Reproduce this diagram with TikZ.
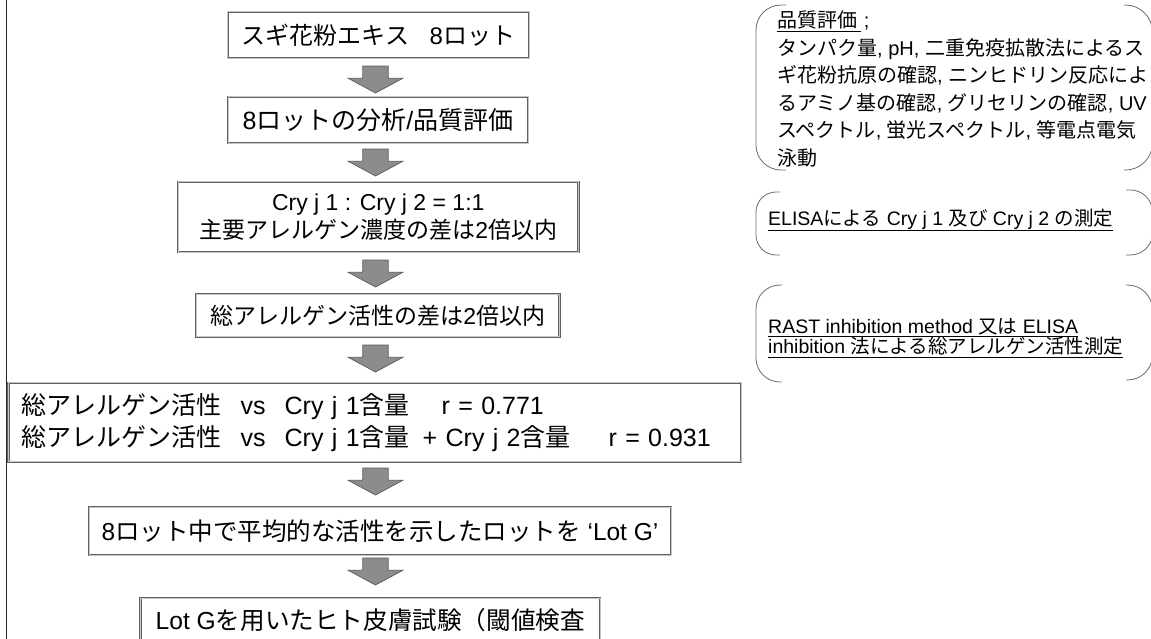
\documentclass[tikz,border=0pt]{standalone}
\usepackage{fontspec}
\setmainfont{Liberation Sans}
\newfontfamily\jpfont{Noto Sans CJK JP}
\newcommand\J[1]{{\jpfont #1}}
\definecolor{boxline}{gray}{0.38}
\definecolor{arrfill}{gray}{0.55}
\definecolor{arredge}{gray}{0.35}
\definecolor{brk}{gray}{0.42}
\begin{document}
\begin{tikzpicture}[x=1pt,y=-1pt,
  mainbox/.style={draw=boxline, double=gray!45, double distance=0.8pt, line width=0.75pt, inner sep=0pt, align=center, font=\fontsize{23}{28}\selectfont},
  bracket/.style={draw=brk, line width=0.8pt, rounded corners=#1},
  sidetext/.style={inner sep=0pt, anchor=west, align=left},
  pics/darr/.style={code={\filldraw[fill=arrfill, draw=arredge, line width=0.7pt] (-12.7,0) -- (12.7,0) -- (12.7,12.3) -- (27.3,12.3) -- (0,27) -- (-27.3,12.3) -- (-12.7,12.3) -- cycle;}}
]
\useasboundingbox (0,0) rectangle (1151,638);
\coordinate (lt) at (6.5,-5);
\coordinate (lb) at (6.5,645);
\draw[line width=1.5pt, black!85] (lt) -- (lb);

% main column
\node[mainbox, minimum width=301.6pt, minimum height=46.6pt, font=\fontsize{24}{28}\selectfont] (b1) at (378.5,35) {\J{スギ花粉エキス}\hspace{0.85em}8\J{ロット}};
\node[mainbox, minimum width=300pt, minimum height=46.6pt, font=\fontsize{25}{28}\selectfont] (b2) at (378,120) {8\J{ロットの分析}/\J{品質評価}};
\node[mainbox, minimum width=400.6pt, minimum height=70.6pt] (b3) at (378.3,217) {Cry j 1 : Cry j 2 = 1:1\\ \J{主要アレルゲン濃度の差は}2\J{倍以内}};
\node[mainbox, minimum width=363.5pt, minimum height=42.7pt] (b4) at (377.8,315.4) {\J{総アレルゲン活性の差は}2\J{倍以内}};
\node[mainbox, minimum width=732.6pt, minimum height=79pt, align=left, text width=706pt, font=\fontsize{25}{32}\selectfont] (b5) at (374.7,422.2) {\J{総アレルゲン活性}\hspace{19pt}vs\hspace{19pt}Cry j 1\J{含量}\hspace{32pt}r = 0.771\\ \J{総アレルゲン活性}\hspace{19pt}vs\hspace{19pt}Cry j 1\J{含量}\hspace{13pt}+ Cry j 2\J{含量}\hspace{38pt}r = 0.931};
\node[mainbox, minimum width=582pt, minimum height=48pt, font=\fontsize{24.5}{28}\selectfont] (b6) at (380,531) {8\J{ロット中で平均的な活性を示したロットを} ‘Lot G’};
\node[mainbox, minimum width=459.5pt, minimum height=44pt, font=\fontsize{24.6}{28}\selectfont] (b7) at (370.25,620) {Lot G\J{を用いたヒト皮膚試験（閾値検査}};

% block arrows
\pic (a1) at (375.5,66) {darr};
\pic (a2) at (375.5,149) {darr};
\pic (a3) at (375.5,260) {darr};
\pic (a4) at (375.5,345) {darr};
\pic (a5) at (375.5,468) {darr};
\pic (a6) at (375.5,558) {darr};

% side notes
\draw[bracket=25] (786,5) -- (756,5) -- (756,170) -- (786,170);
\draw[bracket=27] (1124,5) -- (1152.5,5) -- (1152.5,170) -- (1124,170);
\node[sidetext, font=\fontsize{20}{27.5}\selectfont] (sa) at (777,89) {\underline{\J{品質評価}\,}\,;\\ \J{タンパク量}, pH, \J{二重免疫拡散法によるス}\\ \J{ギ花粉抗原の確認}, \J{ニンヒドリン反応によ}\\ \J{るアミノ基の確認}, \J{グリセリンの確認}, UV\\ \J{スペクトル}, \J{蛍光スペクトル}, \J{等電点電気}\\ \J{泳動}};

\draw[bracket=20] (780,192) -- (756,192) -- (756,255) -- (780,255);
\draw[bracket=22] (1126,190) -- (1152.5,190) -- (1152.5,255) -- (1126,255);
\node[sidetext, font=\fontsize{19.5}{22}\selectfont] (sb) at (768,220) {\underline{ELISA\J{による} Cry j 1 \J{及び} Cry j 2 \J{の測定}}};

\draw[bracket=24] (782,285) -- (756,285) -- (756,382) -- (782,382);
\draw[bracket=25] (1126,285) -- (1152.5,285) -- (1152.5,380) -- (1126,380);
\node[sidetext, font=\fontsize{19.5}{20.5}\selectfont] (sc) at (768,338) {\underline{RAST inhibition method \J{又は} ELISA}\\ \underline{inhibition \J{法による総アレルゲン活性測定}}};
\end{tikzpicture}
\end{document}
